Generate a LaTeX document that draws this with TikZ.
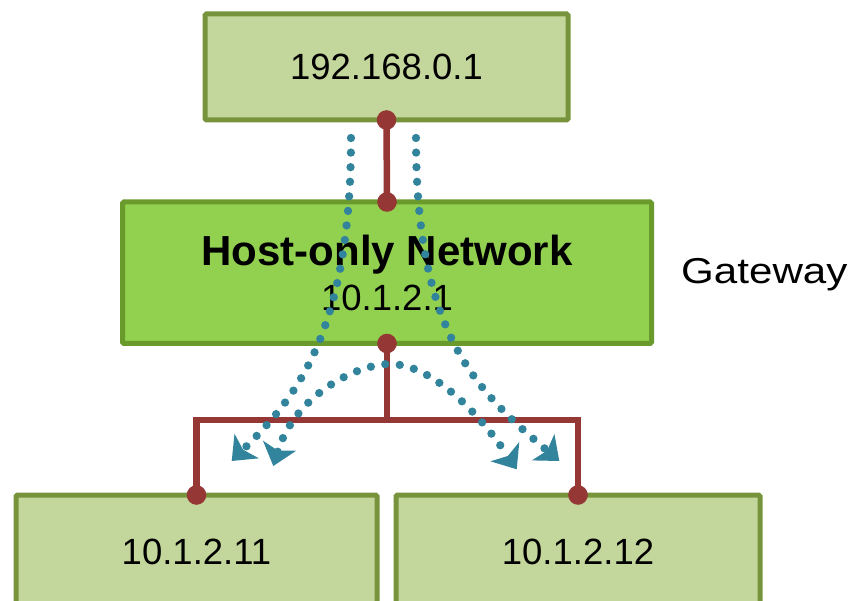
\documentclass[tikz,border=0pt]{standalone}
\usepackage{fontspec}
\usepackage{graphicx}
\setmainfont{Liberation Sans}
\usetikzlibrary{arrows.meta}
\definecolor{boxfill}{HTML}{C3D69B}
\definecolor{boxline}{HTML}{77933C}
\definecolor{hostfill}{HTML}{92D050}
\definecolor{hostline}{HTML}{6A9A2C}
\definecolor{redc}{HTML}{953735}
\definecolor{bluec}{HTML}{31849B}
\begin{document}
\begin{tikzpicture}[x=1pt,y=-1pt,
  box/.style={draw=boxline, fill=boxfill, line width=5pt, rounded corners=1.5pt, inner sep=0pt, outer sep=0pt, font=\fontsize{36.5}{43}\selectfont},
  hostbox/.style={box, draw=hostline, fill=hostfill, align=center, font=\fontsize{36.5}{45}\selectfont},
  redline/.style={draw=redc, line width=6.5pt},
  reddot/.style={fill=redc},
  dotflow/.style={draw=bluec, line width=8.3pt, line cap=round, dash pattern=on 0pt off 14.6pt},
]
\path[use as bounding box] (0,0) rectangle (851,601);
\clip (0,0) rectangle (851,601);

% boxes
\node[box, minimum width=363pt, minimum height=106pt] (top) at (386.5,67) {192.168.0.1};
\node[hostbox, minimum width=529pt, minimum height=141.5pt] (host) at (387,272.75)
  {\raisebox{-2pt}{\fontsize{42}{45}\selectfont\bfseries Host-only Network}\\\raisebox{-2pt}{10.1.2.1}};
\node[box, minimum width=361pt, minimum height=113pt] (pcA) at (196.5,551.5) {10.1.2.11};
\node[box, minimum width=364pt, minimum height=113pt] (pcB) at (578,551.5) {10.1.2.12};
\node[font=\fontsize{36}{45}\selectfont, anchor=west, inner sep=0pt] (gw) at (681,275) {\scalebox{1.17}[1]{Gateway}};

% red connectors
\coordinate (hub) at (387,420);
\draw[redline] (top.south) -- (host.north);
\draw[redline] (host.south) -- (hub);
\draw[redline] (pcA.north) |- (hub) -| (pcB.north);
\foreach \p in {top.south,host.north,host.south,pcA.north,pcB.north}
  \fill[reddot] (\p) circle[radius=9.8pt];

% blue dotted flows
\coordinate (sL) at (351,138);
\coordinate (tL) at (231.7,461);
\coordinate (sR) at (416,138);
\coordinate (tR) at (559.3,461);
\coordinate (apex) at (390,364);
\coordinate (aL) at (273.3,466);
\coordinate (aR) at (516.7,469.3);
\draw[dotflow, -{Stealth[length=21pt,width=34pt,inset=5pt]}] (sL) .. controls (351,338) and (292,401) .. (tL);
\draw[dotflow, -{Stealth[length=21pt,width=34pt,inset=5pt]}] (sR) .. controls (416,338) and (479,392.4) .. (tR);
\draw[dotflow, {Stealth[length=21pt,width=34pt,inset=5pt]}-{Stealth[length=21pt,width=34pt,inset=5pt]}]
  (aL) .. controls (295,395) and (357,364) .. (apex) .. controls (430,364) and (477,410) .. (aR);
\end{tikzpicture}
\end{document}
